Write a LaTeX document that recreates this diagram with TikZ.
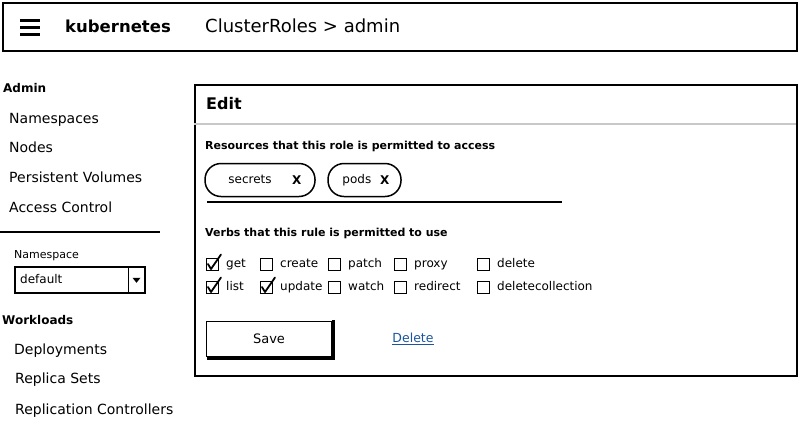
\documentclass[tikz,border=0pt]{standalone}
\usepackage{fontspec}
\setmainfont{DejaVu Sans}
\usetikzlibrary{positioning,shapes}
\tikzset{
  font={\fontsize{14pt}{16}\selectfont}}
\definecolor{link_blue}{RGB}{25,85,160}
\definecolor{rule_grey}{RGB}{200,200,200}

\begin{document}
\begin{tikzpicture}[x=1pt,y=-1pt,
    box_bar/.style ={rectangle, draw=black, line width=2pt, fill=white,
      anchor=north west, inner sep=0pt},
    title_app/.style ={anchor=west, inner sep=0pt, font={\fontsize{16.5pt}{18}\selectfont\bfseries}},
    title_path/.style ={anchor=west, inner sep=0pt, font={\fontsize{18pt}{20}\selectfont}},
    side_head/.style ={anchor=west, inner sep=0pt, font={\fontsize{12pt}{14}\selectfont\bfseries}},
    side_item/.style ={anchor=west, inner sep=0pt, text height=10.2pt, text depth=0pt,
      font={\fontsize{14pt}{16}\selectfont}},
    small_label/.style ={anchor=west, inner sep=0pt, font={\fontsize{11pt}{13}\selectfont}},
    drop_box/.style ={rectangle, draw=black, line width=1.5pt, anchor=north west,
      minimum width=130pt, minimum height=26pt, inner sep=0pt},
    panel_head/.style ={anchor=west, inner sep=0pt, font={\fontsize{16pt}{18}\selectfont\bfseries}},
    field_label/.style ={anchor=west, inner sep=0pt, font={\fontsize{11pt}{13}\selectfont\bfseries}},
    pill_box/.style ={rectangle, rounded corners=16pt, draw=black, line width=1.5pt,
      minimum height=33pt, inner sep=0pt},
    pill_text/.style ={anchor=west, inner sep=0pt, text height=8.5pt, text depth=2.5pt,
      font={\fontsize{12pt}{14}\selectfont}},
    pill_x/.style ={inner sep=0pt, font={\fontsize{12pt}{14}\selectfont\bfseries}},
    chk_box/.style ={rectangle, draw=black, line width=1pt, minimum size=12pt,
      inner sep=0pt, anchor=west},
    chk_label/.style ={inner sep=0pt, text height=9pt, text depth=2.5pt,
      font={\fontsize{12pt}{14}\selectfont}},
    btn_save/.style ={rectangle, draw=black, line width=1.5pt, fill=white,
      minimum width=125pt, minimum height=35pt, font={\fontsize{13pt}{15}\selectfont}},
    link_text/.style ={inner sep=0pt, text=link_blue, font={\fontsize{12.5pt}{14}\selectfont}},
    tick_line/.style ={draw=black, line width=1.8pt, line join=round, line cap=round},
    rule_line/.style ={draw=black, line width=1.5pt}]
    \useasboundingbox (0,0) rectangle (798,421);
    % top bar
    \node[box_bar, minimum width=794pt, minimum height=48pt] (topbar) at (2,2) {};
    \draw[line width=3pt] (20,20) -- (40,20) (20,27) -- (40,27) (20,34) -- (40,34);
    \node[title_app] (app) at (65,26) {kubernetes};
    \node[title_path] (crumb) at (205,26) {ClusterRoles > admin};
    % side menu
    \node[side_head] (admin) at (3,88) {Admin};
    \node[side_item] (ns) at (9,118) {Namespaces};
    \node[side_item] (nodes) at (9,147) {Nodes};
    \node[side_item] (pv) at (9,177) {Persistent Volumes};
    \node[side_item] (acl) at (9,207) {Access Control};
    \coordinate (sep_l) at (0,232);
    \coordinate (sep_r) at (160,232);
    \node[small_label] (nslabel) at (14,256) {Namespace};
    \node[drop_box] (ddl) at (14,266) {};
    \node[small_label, font={\fontsize{12pt}{14}\selectfont}] (ddltext) at (20,279) {default};
    \node[side_head] (work) at (2,320) {Workloads};
    \node[side_item] (deploy) at (14,349) {Deployments};
    \node[side_item] (rs) at (15,378) {Replica Sets};
    \node[side_item] (rc) at (15,409) {Replication Controllers};
    % edit panel
    \node[box_bar, minimum width=602pt, minimum height=291pt] (panel) at (194,84) {};
    \coordinate (head_r) at (796,124);
    \coordinate (head_l) at (194,124);
    \node[panel_head] (edit) at (206,104) {Edit};
    \node[field_label] (res) at (205,146) {Resources that this role is permitted to access};
    \node[pill_box, minimum width=110pt] (pill_sec) at (260,180) {};
    \node[pill_text] (sec) at ([xshift=24pt]pill_sec.west) {secrets};
    \node[pill_x] (sec_x) at ([xshift=-19pt]pill_sec.east) {X};
    \node[pill_box, minimum width=73pt] (pill_pods) at (364.5,180) {};
    \node[pill_text] (pods) at ([xshift=15pt]pill_pods.west) {pods};
    \node[pill_x] (pods_x) at ([xshift=-17pt]pill_pods.east) {X};
    \coordinate (res_l) at (207,202);
    \coordinate (res_r) at (562,202);
    \node[field_label] (verbs) at (205,233) {Verbs that this rule is permitted to use};
    % row 1
    \node[chk_box] (cb_get) at (206,264) {};
    \node[chk_label, right=7pt of cb_get] {get};
    \node[chk_box] (cb_create) at (260,264) {};
    \node[chk_label, right=7pt of cb_create] {create};
    \node[chk_box] (cb_patch) at (328,264) {};
    \node[chk_label, right=7pt of cb_patch] {patch};
    \node[chk_box] (cb_proxy) at (394,264) {};
    \node[chk_label, right=7pt of cb_proxy] {proxy};
    \node[chk_box] (cb_delete) at (477,264) {};
    \node[chk_label, right=7pt of cb_delete] {delete};
    % row 2
    \node[chk_box] (cb_list) at (206,287) {};
    \node[chk_label, right=7pt of cb_list] {list};
    \node[chk_box] (cb_update) at (260,287) {};
    \node[chk_label, right=7pt of cb_update] {update};
    \node[chk_box] (cb_watch) at (328,287) {};
    \node[chk_label, right=7pt of cb_watch] {watch};
    \node[chk_box] (cb_redirect) at (394,287) {};
    \node[chk_label, right=7pt of cb_redirect] {redirect};
    \node[chk_box] (cb_delcol) at (477,287) {};
    \node[chk_label, right=7pt of cb_delcol] {deletecollection};
    % buttons
    \node[btn_save] (save) at (269,339) {Save};
    \node[link_text] (del) at (413,339) {\underline{Delete}};
    % lines and marks
    \begin{scope}[every path/.style=rule_line]
      \path (sep_l) -- (sep_r);
      \path (res_l) -- (res_r);
      \path ([xshift=-17pt]ddl.north east) -- ([xshift=-17pt]ddl.south east);
      \path[draw=rule_grey] (head_l) -- (head_r);
      \path[line width=3pt] ([xshift=1.5pt,yshift=1pt]save.north east) -- ([shift={(1.5pt,-1.5pt)}]save.south east) -- ([shift={(1pt,-1.5pt)}]save.south west);
    \end{scope}
    \fill ([xshift=-13pt,yshift=2pt]ddl.east) -- ++(8pt,0) -- ++(-4pt,-5pt) -- cycle;
    \begin{scope}[every path/.style=tick_line]
      \path ([xshift=2pt]cb_get.west) -- ([xshift=5pt,yshift=1.5pt]cb_get.south west) -- ([xshift=2pt,yshift=3pt]cb_get.north east);
      \path ([xshift=2pt]cb_list.west) -- ([xshift=5pt,yshift=1.5pt]cb_list.south west) -- ([xshift=2pt,yshift=3pt]cb_list.north east);
      \path ([xshift=2pt]cb_update.west) -- ([xshift=5pt,yshift=1.5pt]cb_update.south west) -- ([xshift=2pt,yshift=3pt]cb_update.north east);
    \end{scope}
  \end{tikzpicture}
\end{document}
